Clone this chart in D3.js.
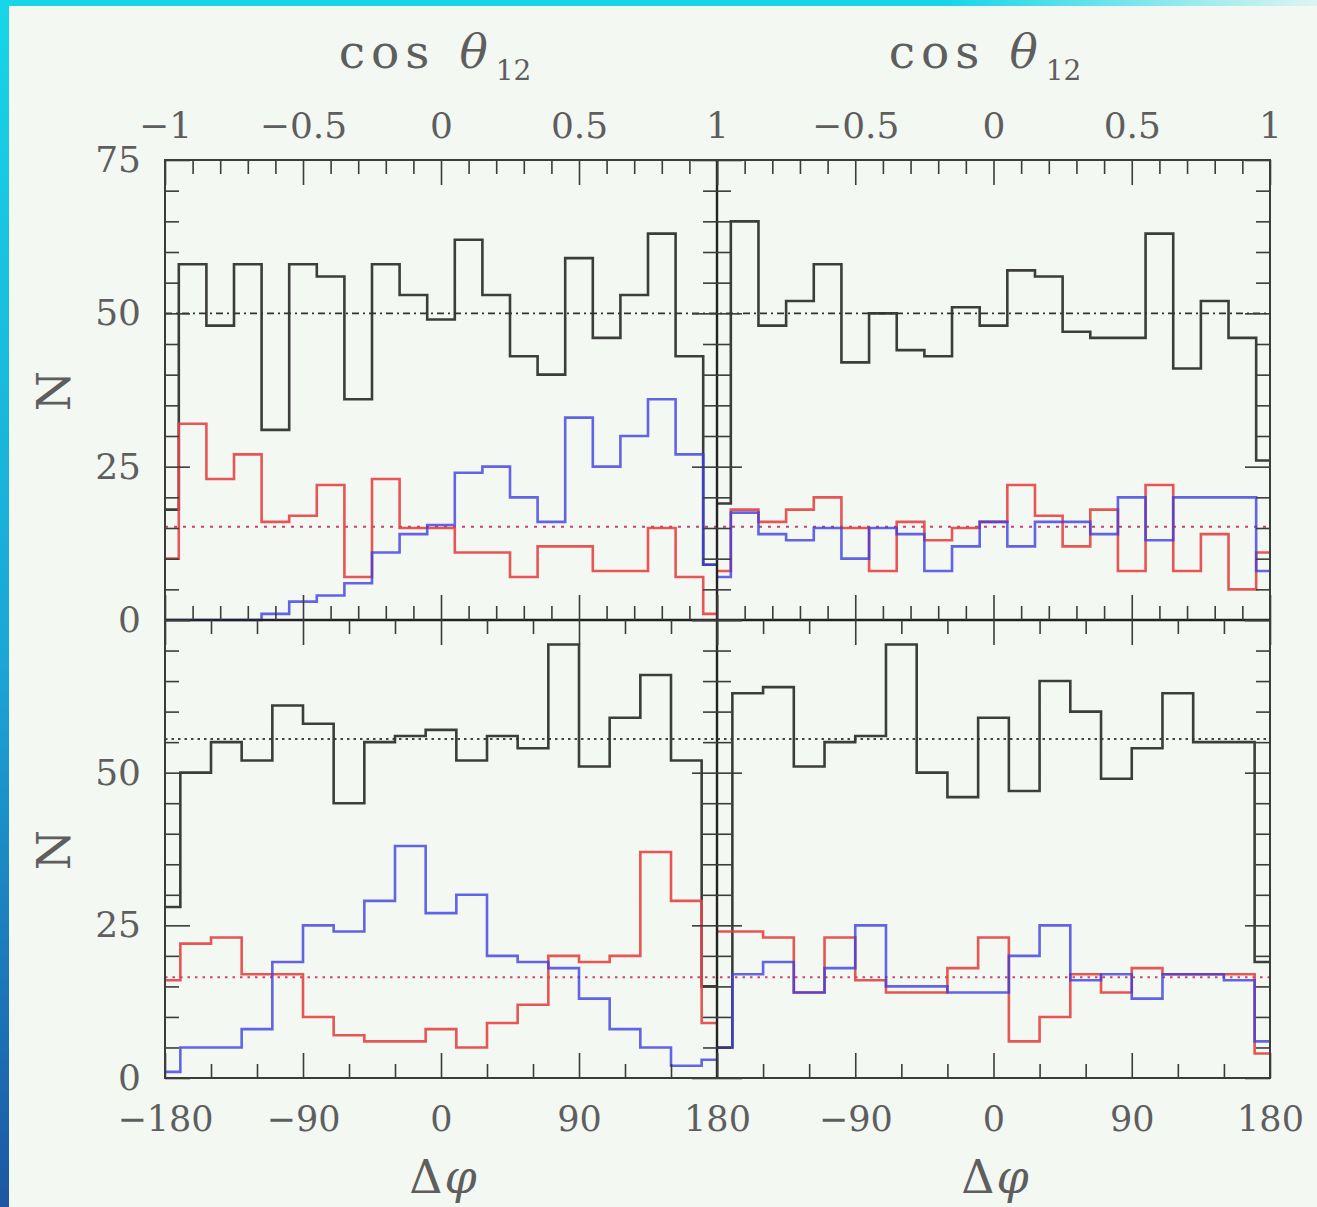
<!DOCTYPE html>
<html><head><meta charset="utf-8">
<script src="https://cdn.jsdelivr.net/npm/d3@7"></script>
<style>
html,body{margin:0;padding:0;background:#f3f8f2;}
svg{display:block;}
</style></head><body>
<svg id="c" width="1317" height="1207"></svg>
<script>
// ---------- data ----------
const cosBins = [-1,-0.9,-0.8,-0.7,-0.6,-0.5,-0.4,-0.3,-0.2,-0.1,0,0.1,0.2,0.3,0.4,0.5,0.6,0.7,0.8,0.9,1];
const phiBins = [-180,-160,-140,-120,-100,-80,-60,-40,-20,0,20,40,60,80,100,120,140,160,180];

const tlBlack = [18,58,48,58,31,58,56,36,58,53,49,62,53,43,40,59,46,53,63,43,9];
const tlRed   = [10,32,23,27,16,17,22,7,23,15,15,11,11,7,12,12,8,8,15,7,1];
const tlBlue  = [0,0,0,0,1,3,4,6,11,14,15.5,24,25,20,16,33,25,30,36,27,9];

const trBlack = [19,65,48,52,58,42,50,44,43,51,48,57,56,47,46,46,63,41,52,46,26];
const trRed   = [8,18,16,18,20,15,8,16,13,15,16,22,17,12,18,8,22,8,14,5,11];
const trBlue  = [7,17.5,14,13,15,10,15,14,8,12,16,12,16,16,14,20,13,20,20,20,8];

const blBlack = [28,50,55,52,61,58,45,55,56,57,52,56,54,71,51,59,66,52,15];
const blRed   = [16,22,23,17,17,10,7,6,6,8,5,9,12,20,19,20,37,29,9];
const blBlue  = [1,5,5,8,19,25,24,29,38,27,30,20,19,18,13,8,5,2,3];

const brBlack = [5,63,64,51,55,56,71,50,46,59,47,65,60,49,54,63,55,55,19];
const brRed   = [24,24,23,14,23,16,14,14,18,23,6,10,17,14,18,17,17,17,4];
const brBlue  = [5,17,19,14,18,25,15,15,14,14,20,25,16,17,13,17,17,16,6];

const topRefBlack = 50, topRefColor = 15.2;
const botRefBlack = 55.5, botRefColor = 16.5;

const cosMajor = [-1,-0.5,0,0.5,1];
const cosMinor = [-0.9,-0.8,-0.7,-0.6,-0.4,-0.3,-0.2,-0.1,0.1,0.2,0.3,0.4,0.6,0.7,0.8,0.9];
const cosLabelsL = [-1,-0.5,0,0.5,1];
const cosLabelsR = [-0.5,0,0.5,1];
const phiMajor = [-180,-90,0,90,180];
const phiMinor = [-150,-120,-60,-30,30,60,120,150];
const phiLabelsL = [-180,-90,0,90,180];
const phiLabelsR = [-90,0,90,180];
const yMajor = [0,25,50,75];
const yMinor = [5,10,15,20,30,35,40,45,55,60,65,70];
const yLabelsTop = [0,25,50,75];
const yLabelsBot = [0,25,50];

// ---------- layout ----------
const W = 1317, H = 1207;
const L = 165, M = 717, R = 1270, T = 160, Ym = 620, B = 1078;
const FONT = "DejaVu Serif";
const TXT = "#5e5e5e";
const AX = "#3c3c3c";

const svg = d3.select("#c");
const defs = svg.append("defs");
const lg = defs.append("linearGradient").attr("id","lg").attr("x1",0).attr("y1",0).attr("x2",0).attr("y2",1);
lg.append("stop").attr("offset","0%").attr("stop-color","#17d6e8");
lg.append("stop").attr("offset","55%").attr("stop-color","#1aa6d6");
lg.append("stop").attr("offset","100%").attr("stop-color","#1d56a4");
const tg = defs.append("linearGradient").attr("id","tg").attr("x1",0).attr("y1",0).attr("x2",1).attr("y2",0);
tg.append("stop").attr("offset","0%").attr("stop-color","#17d6e8");
tg.append("stop").attr("offset","72%").attr("stop-color","#17d6e8");
tg.append("stop").attr("offset","100%").attr("stop-color","#17d6e8").attr("stop-opacity",0.1);

svg.append("rect").attr("width",W).attr("height",H).attr("fill","#f3f8f2");
svg.append("rect").attr("x",0).attr("y",0).attr("width",W).attr("height",6).attr("fill","url(#tg)");
svg.append("rect").attr("x",0).attr("y",0).attr("width",9).attr("height",H).attr("fill","url(#lg)");

// scales
const yTop = d3.scaleLinear().domain([0,75]).range([Ym,T]);
const yBot = d3.scaleLinear().domain([0,75]).range([B,Ym]);
const xCosL = d3.scaleLinear().domain([-1,1]).range([L,M]);
const xCosR = d3.scaleLinear().domain([-1,1]).range([M,R]);
const xPhiL = d3.scaleLinear().domain([-180,180]).range([L,M]);
const xPhiR = d3.scaleLinear().domain([-180,180]).range([M,R]);

const fmt = v => (v < 0 ? "\u2212" : "") + Math.abs(v);

function ax(gen, scale, vals, size, transform, labels, pad, fs) {
  const a = gen(scale).tickValues(vals).tickSize(size).tickSizeOuter(0)
    .tickPadding(pad || 0).tickFormat(labels ? fmt : () => "");
  const g = svg.append("g").attr("transform", transform).call(a);
  g.select(".domain").remove();
  g.selectAll("line").attr("stroke", AX).attr("stroke-width", 1.6);
  g.selectAll("text").attr("font-family", FONT).attr("font-size", fs || 36).attr("fill", TXT);
  if (labels) g.selectAll("line").remove();
  return g;
}

const MIN = 14, MAJ = 25;

// reference lines (behind histograms)
function refLine(y, v, color, dash, w) {
  svg.append("line").attr("x1", L).attr("x2", R).attr("y1", y(v)).attr("y2", y(v))
    .attr("stroke", color).attr("stroke-width", w).attr("stroke-dasharray", dash);
}
refLine(yTop, topRefBlack, "#333", "7,4,2,4", 1.6);
refLine(yTop, topRefColor, "#c8407a", "3,6", 2);
refLine(yBot, botRefBlack, "#444", "2.5,4", 2);
refLine(yBot, botRefColor, "#d04470", "2.5,5", 2);

// histograms
function hist(xs, vals, x, y, color, op) {
  const line = d3.line().x((d,i) => x(xs[i])).y(d => y(d)).curve(d3.curveStep);
  svg.append("path").attr("d", line(vals)).attr("fill","none")
    .attr("stroke", color).attr("stroke-width", 2.6).attr("opacity", op)
    .attr("stroke-linejoin","miter");
}
[[cosBins, tlBlack, tlRed, tlBlue, xCosL, yTop],
 [cosBins, trBlack, trRed, trBlue, xCosR, yTop],
 [phiBins, blBlack, blRed, blBlue, xPhiL, yBot],
 [phiBins, brBlack, brRed, brBlue, xPhiR, yBot]].forEach(([xs, k, r, b, x, y]) => {
  hist(xs, k, x, y, "#333", 0.95);
  hist(xs, r, x, y, "#e44444", 0.9);
  hist(xs, b, x, y, "#3e3ee0", 0.8);
});

// frames
svg.append("rect").attr("x",L).attr("y",T).attr("width",R-L).attr("height",B-T)
  .attr("fill","none").attr("stroke",AX).attr("stroke-width",2);
svg.append("line").attr("x1",M).attr("x2",M).attr("y1",T).attr("y2",B).attr("stroke","#222").attr("stroke-width",2.4);
svg.append("line").attr("x1",L).attr("x2",R).attr("y1",Ym).attr("y2",Ym).attr("stroke","#222").attr("stroke-width",2.6);

// x ticks: top row (cos)
[xCosL, xCosR].forEach(x => {
  ax(d3.axisTop, x, cosMinor, -MIN, `translate(0,${T})`);
  ax(d3.axisTop, x, cosMajor, -MAJ, `translate(0,${T})`);
  ax(d3.axisBottom, x, cosMinor, -MIN, `translate(0,${Ym})`);
  ax(d3.axisBottom, x, cosMajor, -MAJ, `translate(0,${Ym})`);
});
// x ticks: bottom row (phi)
[xPhiL, xPhiR].forEach(x => {
  ax(d3.axisTop, x, phiMinor, -MIN, `translate(0,${Ym})`);
  ax(d3.axisTop, x, phiMajor, -MAJ, `translate(0,${Ym})`);
  ax(d3.axisBottom, x, phiMinor, -MIN, `translate(0,${B})`);
  ax(d3.axisBottom, x, phiMajor, -MAJ, `translate(0,${B})`);
});
// x labels
ax(d3.axisTop, xCosL, cosLabelsL, 0, `translate(0,${T})`, true, 22);
ax(d3.axisTop, xCosR, cosLabelsR, 0, `translate(0,${T})`, true, 22);
ax(d3.axisBottom, xPhiL, phiLabelsL, 0, `translate(0,${B})`, true, 28, 35);
ax(d3.axisBottom, xPhiR, phiLabelsR, 0, `translate(0,${B})`, true, 28, 35);

// y ticks
[yTop, yBot].forEach(y => {
  ax(d3.axisLeft, y, yMinor, -MIN, `translate(${L},0)`);
  ax(d3.axisLeft, y, yMajor, -MAJ, `translate(${L},0)`);
  ax(d3.axisRight, y, yMinor, -MIN, `translate(${M},0)`);
  ax(d3.axisRight, y, yMajor, -MAJ, `translate(${M},0)`);
  ax(d3.axisLeft, y, yMinor, -MIN, `translate(${M},0)`);
  ax(d3.axisLeft, y, yMajor, -MAJ, `translate(${M},0)`);
  ax(d3.axisRight, y, yMinor, -MIN, `translate(${R},0)`);
  ax(d3.axisRight, y, yMajor, -MAJ, `translate(${R},0)`);
});
ax(d3.axisLeft, yTop, yLabelsTop, 0, `translate(${L},0)`, true, 24);
ax(d3.axisLeft, yBot, yLabelsBot, 0, `translate(${L},0)`, true, 24);

// titles
function cosTitle(cx) {
  const t = svg.append("text").attr("x", cx).attr("y", 68).attr("text-anchor","middle")
    .attr("font-family", FONT).attr("font-size", 47).attr("fill", TXT);
  t.append("tspan").text("cos").attr("letter-spacing", 6);
  t.append("tspan").text("θ").attr("font-style","italic").attr("dx", 24);
  t.append("tspan").text("12").attr("font-size", 28).attr("dy", 12).attr("dx", 8);
}
cosTitle(435); cosTitle(985);

function phiTitle(cx) {
  const t = svg.append("text").attr("x", cx).attr("y", 1193).attr("text-anchor","middle")
    .attr("font-family", FONT).attr("font-size", 46).attr("fill", TXT);
  t.append("tspan").text("Δ");
  t.append("tspan").text("φ").attr("font-style","italic").attr("dx", 2);
}
phiTitle(443); phiTitle(995);

function nLabel(cy) {
  svg.append("text").attr("transform", `translate(70,${cy}) rotate(-90)`).attr("text-anchor","middle")
    .attr("font-family", FONT).attr("font-size", 46).attr("fill", TXT).text("N");
}
nLabel(391); nLabel(850);
</script>
</body></html>
